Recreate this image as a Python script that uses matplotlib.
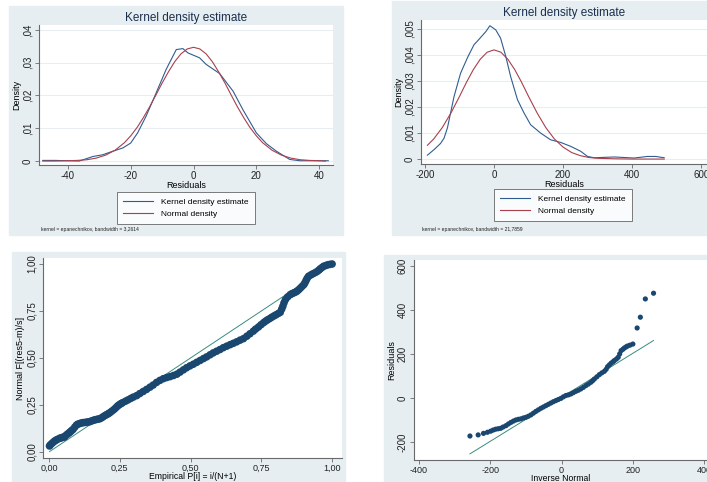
import matplotlib
matplotlib.use('Agg')
import matplotlib.pyplot as plt
from matplotlib.lines import Line2D
from matplotlib.patches import Rectangle

plt.rcParams['font.family'] = ['Liberation Sans', 'DejaVu Sans']
plt.rcParams['axes.unicode_minus'] = False

# ---- top left: kernel density of residuals (small model) ----
kde1_x = [-48, -44, -40, -36.4, -32, -29, -25.7, -22.5, -20, -17.8, -15.1, -11.9, -8.7,
          -5.5, -3.4, -1.8, 1.9, 4, 8.3, 12.6, 15.7, 20, 23.2, 26.4, 30.6, 33.8, 38, 42.9]
kde1_y = [0.0002, 0.0002, 0.0001, 0.0000, 0.0014, 0.0019, 0.0030, 0.0040, 0.0055, 0.0086,
          0.0137, 0.0208, 0.0280, 0.0340, 0.0343, 0.0330, 0.0315, 0.0295, 0.0267, 0.0213,
          0.0157, 0.0086, 0.0053, 0.0030, 0.0005, 0.0001, 0.0001, 0.0001]
norm1_x = [-48, -44, -40, -37, -34, -31, -28, -25, -22, -20, -18, -16, -14, -12, -10, -8, -6,
           -4, -2, 0, 2, 4, 6, 8, 10, 12, 14, 16, 18, 20, 22, 25, 28, 31, 34, 37, 40, 42]
norm1_y = [0.0000, 0.0000, 0.0001, 0.0002, 0.0004, 0.0009, 0.0018, 0.0033, 0.0056, 0.0077,
           0.0102, 0.0132, 0.0165, 0.0201, 0.0238, 0.0272, 0.0303, 0.0327, 0.0342, 0.0347,
           0.0342, 0.0327, 0.0303, 0.0272, 0.0238, 0.0201, 0.0165, 0.0132, 0.0102, 0.0077,
           0.0056, 0.0033, 0.0018, 0.0009, 0.0004, 0.0002, 0.0001, 0.0000]
bw1 = '3,2614'

# ---- top right: kernel density of residuals (large model) ----
kde2_x = [-193, -174, -155, -145, -135, -116, -97, -77, -58, -44, -24, -12, 5, 19, 34, 48,
          68, 87, 106, 135, 164, 193, 222, 251, 271, 290, 348, 406, 444, 469, 493]
kde2_y = [0.00015, 0.00036, 0.0006, 0.0008, 0.0012, 0.0024, 0.0033, 0.0039, 0.0044, 0.0046,
          0.0049, 0.00513, 0.00497, 0.00465, 0.00395, 0.00318, 0.00228, 0.00177, 0.00132,
          0.0010, 0.00074, 0.00064, 0.00049, 0.0003, 0.0001, 0.00005, 0.00008, 0.00004,
          0.0001, 0.0001, 0.00005]
norm2_x = [-193, -175, -150, -125, -100, -80, -60, -40, -20, 0, 20, 40, 60, 80, 100, 125,
           150, 175, 200, 225, 250, 275, 300, 350, 400, 493]
norm2_y = [0.00053, 0.00077, 0.00121, 0.00177, 0.00241, 0.00295, 0.00344, 0.00384, 0.00411,
           0.0042, 0.00411, 0.00384, 0.00344, 0.00295, 0.00241, 0.00177, 0.00121, 0.00077,
           0.00046, 0.00025, 0.00013, 0.00006, 0.00003, 0.00001, 0.0, 0.0]
bw2 = '21,7859'

# ---- bottom left: standardized normal probability plot ----
pp_x = [0.002, 0.005, 0.010, 0.015, 0.020, 0.025, 0.030, 0.038, 0.043, 0.047, 0.051, 0.055,
        0.061, 0.067, 0.072, 0.076, 0.080, 0.085, 0.091, 0.097, 0.102, 0.108, 0.114, 0.120,
        0.126, 0.132, 0.138, 0.144, 0.150, 0.156, 0.162, 0.168, 0.174, 0.180, 0.186, 0.192,
        0.198, 0.204, 0.210, 0.215, 0.221, 0.228, 0.234, 0.240, 0.245, 0.250, 0.255, 0.260,
        0.270, 0.279, 0.289, 0.298, 0.310, 0.321, 0.333, 0.345, 0.357, 0.368, 0.380, 0.392,
        0.404, 0.416, 0.428, 0.440, 0.452, 0.463, 0.475, 0.486, 0.498, 0.510, 0.522, 0.534,
        0.546, 0.557, 0.569, 0.580, 0.592, 0.604, 0.616, 0.628, 0.640, 0.651, 0.663, 0.675,
        0.687, 0.699, 0.710, 0.722, 0.730, 0.740, 0.749, 0.758, 0.765, 0.772, 0.780, 0.787,
        0.795, 0.802, 0.810, 0.817, 0.822, 0.826, 0.830, 0.835, 0.843, 0.852, 0.858, 0.864,
        0.870, 0.876, 0.882, 0.888, 0.894, 0.900, 0.904, 0.908, 0.912, 0.917, 0.925, 0.932,
        0.940, 0.947, 0.953, 0.958, 0.964, 0.970, 0.978, 0.985, 0.992, 1.000]
pp_y = [0.032, 0.038, 0.045, 0.052, 0.058, 0.063, 0.067, 0.073, 0.075, 0.077, 0.079, 0.080,
        0.090, 0.097, 0.103, 0.108, 0.114, 0.120, 0.132, 0.143, 0.148, 0.151, 0.154, 0.156,
        0.157, 0.158, 0.160, 0.161, 0.165, 0.168, 0.171, 0.173, 0.175, 0.177, 0.182, 0.188,
        0.194, 0.199, 0.204, 0.209, 0.216, 0.224, 0.232, 0.241, 0.248, 0.253, 0.258, 0.262,
        0.270, 0.277, 0.285, 0.292, 0.300, 0.311, 0.322, 0.333, 0.345, 0.356, 0.370, 0.381,
        0.390, 0.396, 0.401, 0.407, 0.414, 0.425, 0.437, 0.448, 0.458, 0.467, 0.477, 0.487,
        0.497, 0.506, 0.517, 0.527, 0.536, 0.545, 0.555, 0.563, 0.571, 0.578, 0.586, 0.595,
        0.603, 0.616, 0.629, 0.643, 0.654, 0.665, 0.677, 0.688, 0.696, 0.703, 0.710, 0.717,
        0.724, 0.730, 0.737, 0.743, 0.760, 0.775, 0.793, 0.810, 0.825, 0.837, 0.842, 0.846,
        0.850, 0.855, 0.863, 0.872, 0.881, 0.890, 0.900, 0.912, 0.924, 0.935, 0.942, 0.948,
        0.954, 0.960, 0.967, 0.974, 0.981, 0.988, 0.992, 0.996, 0.998, 1.000]
pp_line_x = [0.002, 0.998]
pp_line_y = [0.002, 0.998]

# ---- bottom right: quantile plot against the normal ----
qq_x = [-257, -234, -219, -208, -199, -192, -185, -178, -171, -164, -156, -149, -142, -135,
        -128, -121, -114, -107, -100, -93, -86, -79, -72, -65, -58, -51, -44, -37, -30, -23,
        -16, -9, -2, 5, 12, 19, 26, 33, 40, 47, 54, 61, 68, 75, 82, 87, 92, 99, 106, 113, 120,
        125, 129, 134, 139, 144, 148, 154, 159, 163, 167, 172, 176, 181, 185, 192, 200, 212,
        221, 235, 258]
qq_y = [-173, -168, -161, -156, -151, -146, -142, -140, -138, -132, -126, -118, -111, -105,
        -100, -97, -95, -91, -88, -83, -77, -69, -61, -54, -47, -41, -35, -29, -23, -17, -12,
        -7, -2, 5, 11, 14, 18, 24, 30, 35, 41, 48, 56, 63, 71, 78, 86, 96, 106, 114, 121, 130,
        142, 150, 158, 164, 170, 177, 185, 200, 215, 221, 227, 232, 236, 240, 245, 318, 367,
        450, 476]
qq_line_x = [-257, 258]
qq_line_y = [-254, 261]

W, H = 707, 482
fig = plt.figure(figsize=(W / 100, H / 100), dpi=100)
fig.patch.set_facecolor('white')

bg = '#e6eef1'
navy = '#1a476f'
blue_line = '#2f5d91'
red_line = '#a8404e'
teal = '#3a8c7c'
axcol = '#6a6a6a'
lab_fs = 6.5


def panel_bg(l, t, r, b):
    fig.patches.append(Rectangle((l / W, 1 - b / H), (r - l) / W, (b - t) / H,
                                 transform=fig.transFigure, color=bg, zorder=-5))


def add_ax(l, t, r, b):
    ax = fig.add_axes([l / W, 1 - b / H, (r - l) / W, (b - t) / H])
    ax.set_facecolor('white')
    for s in ['top', 'right']:
        ax.spines[s].set_visible(False)
    for s in ['left', 'bottom']:
        ax.spines[s].set_color(axcol)
        ax.spines[s].set_linewidth(0.8)
    ax.tick_params(direction='out', length=3, width=0.6, color=axcol,
                   labelsize=7, pad=1.5, labelcolor='#222222')
    return ax


def ylabels(ax, ticks, labels):
    ax.set_yticks(ticks)
    ax.set_yticklabels(labels, rotation=90, va='center')


def kde_extras(ax, cx, cy, note_x, bw):
    handles = [Line2D([], [], color=blue_line, lw=0.8), Line2D([], [], color=red_line, lw=0.8)]
    leg = ax.legend(handles, ['Kernel density estimate', 'Normal density'], loc='center',
                    bbox_to_anchor=(cx / W, 1 - cy / H), bbox_transform=fig.transFigure,
                    fontsize=6, frameon=True, fancybox=False, edgecolor='#444444',
                    handlelength=3.6, borderpad=0.75, labelspacing=0.55, handletextpad=1.0)
    leg.get_frame().set_linewidth(0.6)
    fig.text(note_x / W, 1 - 229 / H, 'kernel = epanechnikov, bandwidth = ' + bw,
             fontsize=3.6, va='center', ha='left', color='#222222')


# top left
panel_bg(9, 6, 343, 235)
ax1 = add_ax(39, 25, 333, 165)
ax1.plot(kde1_x, kde1_y, color=blue_line, lw=0.8, zorder=3)
ax1.plot(norm1_x, norm1_y, color=red_line, lw=0.8, zorder=3)
ax1.set_xlim(-49.2, 44.4)
ax1.set_ylim(-0.0012, 0.0415)
ax1.set_xticks([-40, -20, 0, 20, 40])
ax1.set_xticklabels(['-40', '-20', '0', '20', '40'])
ylabels(ax1, [0, 0.01, 0.02, 0.03, 0.04], ['0', ',01', ',02', ',03', ',04'])
ax1.yaxis.grid(True, color='#e6eef1', lw=0.8)
ax1.set_axisbelow(True)
ax1.set_xlabel('Residuals', fontsize=lab_fs, labelpad=0)
ax1.set_ylabel('Density', fontsize=lab_fs, labelpad=1)
ax1.set_title('Kernel density estimate', fontsize=8.5, color='#1c2f4f', pad=3)
kde_extras(ax1, 186, 208, 41, bw1)

# top right
panel_bg(392, 1, 707, 235)
ax2 = add_ax(421, 20, 707, 164)
ax2.plot(kde2_x, kde2_y, color=blue_line, lw=0.8, zorder=3)
ax2.plot(norm2_x, norm2_y, color=red_line, lw=0.8, zorder=3)
ax2.set_xlim(-211.6, 617)
ax2.set_ylim(-0.00019, 0.00535)
ax2.set_xticks([-200, 0, 200, 400, 600])
ax2.set_xticklabels(['-200', '0', '200', '400', '600'])
ylabels(ax2, [0, 0.001, 0.002, 0.003, 0.004, 0.005], ['0', ',001', ',002', ',003', ',004', ',005'])
ax2.yaxis.grid(True, color='#e6eef1', lw=0.8)
ax2.set_axisbelow(True)
ax2.set_xlabel('Residuals', fontsize=lab_fs, labelpad=0)
ax2.set_ylabel('Density', fontsize=lab_fs, labelpad=1)
ax2.set_title('Kernel density estimate', fontsize=8.5, color='#1c2f4f', pad=3)
kde_extras(ax2, 563, 205, 422, bw2)

# bottom left
panel_bg(12, 252, 345, 482)
ax3 = add_ax(43, 258, 342, 458)
ax3.plot(pp_line_x, pp_line_y, color=teal, lw=0.7, zorder=2)
ax3.scatter(pp_x, pp_y, s=30, color=navy, edgecolors='none', zorder=3)
ax3.set_xlim(-0.021, 1.035)
ax3.set_ylim(-0.032, 1.032)
ax3.set_xticks([0, 0.25, 0.5, 0.75, 1])
ax3.set_xticklabels(['0,00', '0,25', '0,50', '0,75', '1,00'])
ax3.tick_params(axis='x', labelsize=6.5, pad=1)
ylabels(ax3, [0, 0.25, 0.5, 0.75, 1], ['0,00', '0,25', '0,50', '0,75', '1,00'])
ax3.set_xlabel('Empirical P[i] = i/(N+1)', fontsize=6.2, labelpad=-0.3)
ax3.set_ylabel('Normal F[(res5-m)/s]', fontsize=lab_fs, labelpad=1)

# bottom right
panel_bg(384, 255, 707, 482)
ax4 = add_ax(414, 260, 707, 460)
ax4.plot(qq_line_x, qq_line_y, color=teal, lw=0.7, zorder=2)
ax4.scatter(qq_x, qq_y, s=14, color=navy, edgecolors='none', zorder=3)
ax4.set_xlim(-414, 408)
ax4.set_ylim(-282, 627)
ax4.set_xticks([-400, -200, 0, 200, 400])
ax4.set_xticklabels(['-400', '-200', '0', '200', '400'])
ax4.tick_params(axis='x', labelsize=6.5, pad=1)
ylabels(ax4, [-200, 0, 200, 400, 600], ['-200', '0', '200', '400', '600'])
ax4.set_xlabel('Inverse Normal', fontsize=6.2, labelpad=-0.3)
ax4.set_ylabel('Residuals', fontsize=lab_fs, labelpad=1)

fig.savefig('out.png', dpi=100)
